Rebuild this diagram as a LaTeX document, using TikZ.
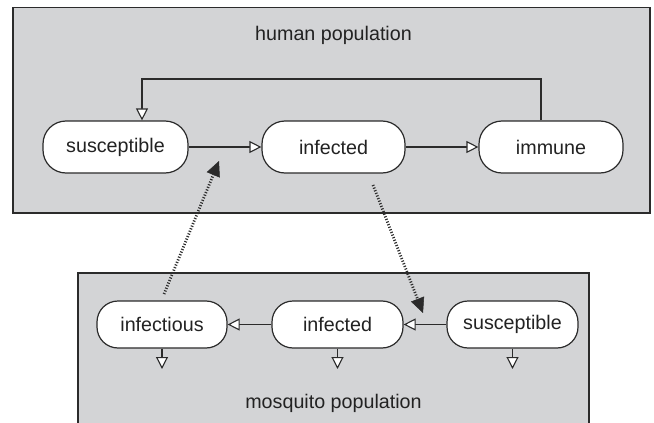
\documentclass[tikz,border=0pt]{standalone}
\usepackage{fontspec}
\setmainfont{Liberation Sans}
\usetikzlibrary{arrows.meta}
\definecolor{boxgray}{HTML}{D3D4D6}
\definecolor{linecol}{HTML}{2B2B2B}
\definecolor{textcol}{HTML}{222222}
\begin{document}
\begin{tikzpicture}[x=1pt,y=-1pt,
  popbox/.style={draw=linecol, fill=boxgray, line width=1.6pt},
  state/.style={draw=linecol, fill=white, line width=1.2pt,
    inner sep=0pt, text=textcol, font=\fontsize{19.7}{23}\selectfont},
  topstate/.style={state, rounded corners=23pt, minimum width=144pt, minimum height=52pt},
  botstate/.style={state, rounded corners=21pt, minimum width=131pt, minimum height=47pt},
  poplabel/.style={text=textcol, font=\fontsize{19.7}{23}\selectfont, inner sep=0pt},
  flow/.style={draw=linecol, line width=1.1pt, -{Triangle[fill=white, length=12pt, width=12pt, line width=1.1pt]}},
  infect/.style={draw=linecol, line width=2.8pt, dash pattern=on 1.1pt off 1.7pt,
    -{Triangle[length=15pt, width=14pt, fill=linecol, line width=0.5pt]}}
]
\useasboundingbox (0,0) rectangle (654,423);
\fill[white] (0,0) rectangle (654,423);
% population boxes
\draw[popbox] (13,7.5) rectangle (650,213);
\draw[popbox] (78,273) rectangle (589,440);
\node[poplabel] (hp) at (333.5,35) {human population};
\node[poplabel] (mp) at (333.5,403) {mosquito population};
% human states
\node[topstate, minimum width=145pt] (hs) at (115.5,147) {susceptible};
\node[topstate, minimum width=143pt] (hi) at (333.5,147) {infected};
\node[topstate] (hr) at (551,147) {immune};
% mosquito states
\node[botstate, minimum width=130pt] (mi2) at (162,324.5) {infectious};
\node[botstate] (mi) at (337.5,324.5) {infected};
\node[botstate] (ms) at (512.5,324.5) {susceptible};
% coordinates
\coordinate (fbA) at (541,79);
\coordinate (fbB) at (142,79);
\coordinate (d1) at (162,369);
\coordinate (d2) at (337.5,369);
\coordinate (d3) at (512.5,369);
\coordinate (v1s) at (164,294);
\coordinate (v1e) at (219,161);
\coordinate (v2s) at (373,185);
\coordinate (v2e) at (423,313);
% human flows
\draw[flow] (hs.east) -- (hi.west);
\draw[flow] (hi.east) -- (hr.west);
\draw[flow] (hr.north -| fbA) -- (fbA) -- (fbB) -- (hs.north -| fbB);
% mosquito flows
\draw[flow] (ms.west) -- (mi.east);
\draw[flow] (mi.west) -- (mi2.east);
\draw[flow] (mi2.south) -- (d1);
\draw[flow] (mi.south) -- (d2);
\draw[flow] (ms.south) -- (d3);
% infection
\draw[infect] (v1s) -- (v1e);
\draw[infect] (v2s) -- (v2e);
\end{tikzpicture}
\end{document}
